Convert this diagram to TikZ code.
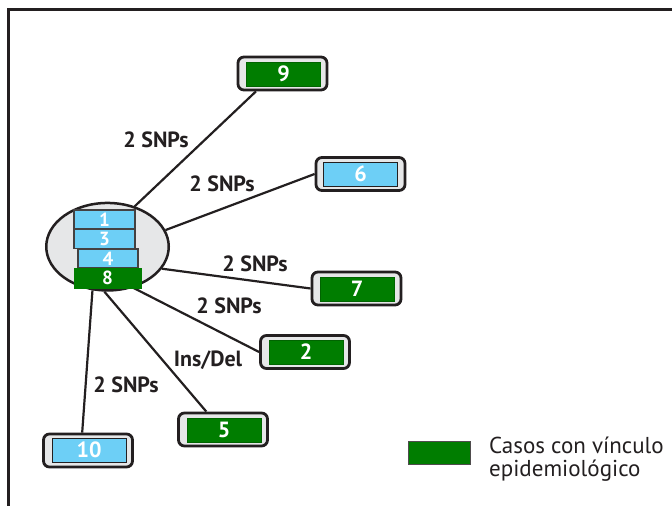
\documentclass[tikz,border=0pt]{standalone}
\usepackage{fontspec}
\setmainfont{PT Sans}
\usetikzlibrary{shapes.geometric}
\definecolor{ink}{HTML}{231F20}
\definecolor{boxgray}{HTML}{E6E7E8}
\definecolor{caseblue}{HTML}{6DCFF6}
\definecolor{casegreen}{RGB}{0,125,0}
\pgfdeclarelayer{bg}
\pgfsetlayers{bg,main}
\begin{document}
\begin{tikzpicture}[x=1pt,y=-1pt,
  outerbox/.style={draw=ink, fill=boxgray, line width=2.8pt, rounded corners=6pt,
    minimum width=89pt, minimum height=33pt, inner sep=0pt},
  innerbase/.style={minimum width=74pt, minimum height=24pt, inner sep=0pt,
    text=white, font=\bfseries\fontsize{22}{22}\selectfont},
  bluebox/.style={innerbase, draw=ink, fill=caseblue, line width=1pt},
  greenbox/.style={innerbase, draw=casegreen!80!black, fill=casegreen, line width=0.6pt},
  stackbase/.style={inner sep=0pt, text=white, font=\bfseries\fontsize{19}{19}\selectfont},
  stackblue/.style={stackbase, draw=ink!85, fill=caseblue, line width=1.2pt},
  stackgreen/.style={stackbase, draw=casegreen, fill=casegreen, line width=0.6pt},
  edge/.style={draw=ink, line width=2.2pt},
  lbl/.style={text=ink, inner sep=0pt, font=\bfseries\fontsize{22}{22}\selectfont},
  legtext/.style={text=ink, inner sep=0pt, anchor=base west, font=\fontsize{23}{23}\selectfont}
]
\useasboundingbox (0,0) rectangle (672,506);

% frame
\draw[ink, line width=3pt] (8.5,506) -- (8.5,9.5) -- (672,9.5);

% cluster ellipse
\node[ellipse, draw=ink, fill=boxgray, line width=2.5pt, minimum width=122.5pt,
      minimum height=87.5pt, inner sep=0pt] (ell) at (107.5,246.7) {};
\node[stackblue, minimum width=61pt, minimum height=19pt] (s1) at (104.5,219.5) {1};
\node[stackblue, minimum width=61pt, minimum height=19.5pt] (s3) at (104.5,239) {3};
\node[stackblue, minimum width=60pt, minimum height=19pt] (s4) at (108,258.5) {4};
\node[stackgreen, minimum width=67pt, minimum height=20.5pt] (s8) at (107.5,278.3) {8};

% outer case boxes
\node[outerbox] (n9) at (282.5,73.5) {};
\node[greenbox] (i9) at (283.5,74) {9};
\node[outerbox] (n6) at (360.5,174) {};
\node[bluebox] (i6) at (360.5,174) {6};
\node[outerbox] (n7) at (356.5,288.5) {};
\node[greenbox] (i7) at (357,289) {7};
\node[outerbox] (n2) at (305,352) {};
\node[greenbox] (i2) at (306,352) {2};
\node[outerbox] (n5) at (223,429.5) {};
\node[greenbox] (i5) at (224,430) {5};
\node[outerbox] (n10) at (88,450.5) {};
\node[bluebox] (i10) at (89,450) {10};

% connectors
\begin{pgfonlayer}{bg}
\fill[white] (0,0) rectangle (672,506);
\draw[edge] (ell.56) -- (n9.214);
\draw[edge] (ell.16) -- (n6.west);
\draw[edge] (ell.-22) -- (n7.west);
\draw[edge] (ell.-58) -- (n2.west);
\draw[edge] (ell.-94) -- (n5.133);
\draw[edge] (ell.-109) -- (n10.108);
\end{pgfonlayer}

% connector labels
\node[lbl] (l9) at (156,139.5) {2 SNPs};
\node[lbl] (l6) at (222,183.5) {2 SNPs};
\node[lbl] (l7) at (255,263.5) {2 SNPs};
\node[lbl] (l2) at (229,305.5) {2 SNPs};
\node[lbl] (lid) at (208,360) {Ins/Del};
\node[lbl] (l10) at (126,384.5) {2 SNPs};

% legend
\node[draw=ink!80, fill=casegreen, line width=1pt, minimum width=62pt,
      minimum height=23pt, inner sep=0pt] (legbox) at (439.5,453) {};
\node[legtext] (leg1) at (489,453.3) {Casos con vínculo};
\node[legtext] (leg2) at (489,476.7) {epidemiológico};
\end{tikzpicture}
\end{document}
